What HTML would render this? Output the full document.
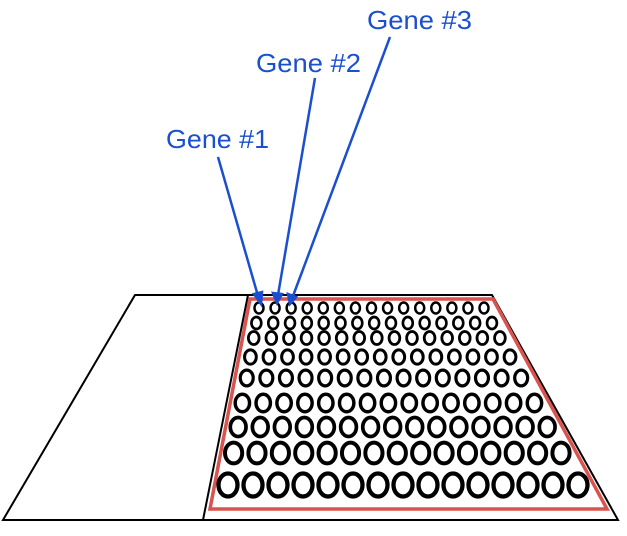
<!DOCTYPE html>
<html><head><style>body{margin:0;background:#fff}svg{display:block}</style></head>
<body>
<svg id="s" width="627" height="536" viewBox="0 0 627 536" xmlns="http://www.w3.org/2000/svg">
<polygon points="135,295 492,295 618,520 3,520" fill="#fff" stroke="#000" stroke-width="2"/>
<line x1="248" y1="295" x2="203" y2="520" stroke="#000" stroke-width="2"/>
<polygon points="250,299 493,299 607,509 210,509" fill="none" stroke="#d9534f" stroke-width="3.5"/>
<g id="g" fill="none" stroke="#000"></g>
<g stroke="#1a4fd0" stroke-width="2.5" fill="#1a4fd0">
<line x1="218" y1="157" x2="258" y2="296"/><polygon points="261,304 254,294 262,292"/>
<line x1="315" y1="78" x2="278" y2="295"/><polygon points="277,303 273,293 282,294"/>
<line x1="390" y1="37" x2="293" y2="296"/><polygon points="290,304 288,294 296,297"/>
</g>
<g fill="#1a4fd0" font-family="Liberation Sans, sans-serif" font-size="26">
<text x="166" y="148" textLength="103" lengthAdjust="spacingAndGlyphs">Gene #1</text>
<text x="256" y="72" textLength="105" lengthAdjust="spacingAndGlyphs">Gene #2</text>
<text x="367" y="29" textLength="105" lengthAdjust="spacingAndGlyphs">Gene #3</text>
</g>
</svg>
<script>
var ys=[308,323,338,357,378,403,427,453,485];
var g=document.getElementById('g');
ys.forEach(function(y,i){
 var t=(y-308)/(485-308);
 var xl=259+(228-259)*t, xr=484+(578-484)*t;
 var rx=4.5+5*t, ry=5.5+6*t, sw=2.5+1.8*t;
 for(var c=0;c<15;c++){
  var x=xl+(xr-xl)*c/14;
  var e=document.createElementNS('http://www.w3.org/2000/svg','ellipse');
  e.setAttribute('cx',x);e.setAttribute('cy',y);e.setAttribute('rx',rx);e.setAttribute('ry',ry);
  e.setAttribute('stroke-width',sw);g.appendChild(e);
 }
});
</script>
</body></html>
